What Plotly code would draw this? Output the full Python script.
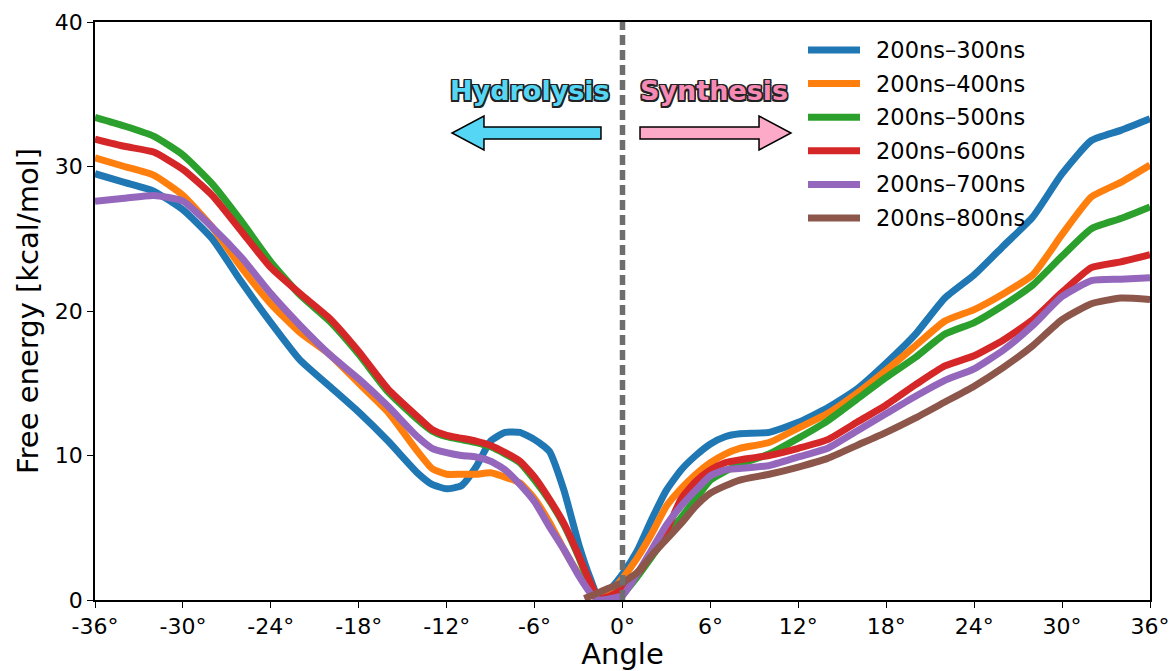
import plotly.graph_objects as go

# ---- data ----
angles = [-36, -34, -32, -30, -28, -26, -24, -22, -20, -18, -16, -14, -13, -12, -11, -10,
          -9, -8, -7, -6, -5, -4, -3, -2.2, -1.6, -0.8, 0, 1, 2, 3, 4, 5, 6, 7, 8,
          10, 12, 14, 16, 18, 20, 22, 24, 26, 28, 30, 32, 34, 36]

fe_300 = [29.5, 28.9, 28.3, 27.0, 25.0, 22.0, 19.2, 16.6, 14.8, 13.0, 11.0, 8.8, 8.0, 7.7, 7.9, 9.2,
          11.0, 11.6, 11.6, 11.1, 10.3, 7.6, 3.9, 1.5, 0.1, 0.8, 1.8, 3.4, 5.6, 7.6, 9.0, 10.0, 10.8, 11.3, 11.5,
          11.6, 12.3, 13.3, 14.6, 16.4, 18.4, 20.9, 22.5, 24.5, 26.5, 29.5, 31.8, 32.5, 33.3]
fe_400 = [30.6, 30.0, 29.4, 28.0, 25.8, 23.0, 20.5, 18.5, 17.0, 15.0, 13.0, 10.3, 9.1, 8.7, 8.7, 8.7,
          8.8, 8.5, 8.1, 7.0, 5.4, 3.5, 1.8, 0.6, 0.0, 0.6, 1.5, 2.9, 4.6, 6.5, 7.7, 8.7, 9.5, 10.1, 10.5,
          10.9, 11.9, 12.9, 14.3, 15.9, 17.6, 19.3, 20.1, 21.2, 22.5, 25.3, 27.9, 28.9, 30.1]
fe_500 = [33.4, 32.8, 32.1, 30.8, 28.8, 26.2, 23.4, 21.1, 19.3, 17.0, 14.4, 12.5, 11.7, 11.3, 11.1, 10.9,
          10.6, 10.1, 9.5, 8.3, 6.9, 5.2, 3.0, 1.0, 0.1, 0.1, 0.4, 1.6, 3.0, 4.4, 5.7, 7.0, 8.3, 8.9, 9.4,
          10.1, 11.2, 12.4, 13.9, 15.4, 16.8, 18.4, 19.2, 20.4, 21.8, 23.8, 25.7, 26.4, 27.2]
fe_600 = [31.9, 31.4, 31.0, 29.8, 28.0, 25.5, 23.0, 21.2, 19.5, 17.2, 14.6, 12.7, 11.8, 11.4, 11.2, 11.0,
          10.7, 10.2, 9.6, 8.5, 7.0, 5.3, 3.1, 1.2, 0.1, 0.3, 0.8, 1.8, 3.2, 4.8, 7.0, 8.2, 9.0, 9.5, 9.7,
          10.0, 10.5, 11.1, 12.3, 13.5, 14.9, 16.2, 16.9, 18.0, 19.4, 21.3, 23.0, 23.4, 23.9]
fe_700 = [27.6, 27.8, 28.0, 27.6, 25.8, 23.7, 21.2, 19.0, 17.0, 15.3, 13.4, 11.3, 10.5, 10.2, 10.0, 9.9,
          9.6, 9.0, 8.0, 6.8, 5.1, 3.5, 1.7, 0.5, 0.0, 0.1, 0.3, 1.8, 3.5, 5.2, 6.5, 7.6, 8.6, 9.0, 9.1,
          9.3, 9.9, 10.5, 11.7, 12.9, 14.1, 15.2, 16.0, 17.3, 19.0, 21.0, 22.1, 22.2, 22.3]

angles_800 = [-2.6, -2, -1, 0, 1, 2, 3, 4, 5, 6, 7, 8, 10, 12, 14, 16, 18, 20, 22, 24, 26, 28, 30, 32, 34, 36]
fe_800 = [0.1, 0.35, 0.8, 1.2, 1.9, 3.1, 4.2, 5.3, 6.5, 7.4, 7.9, 8.3, 8.7, 9.2, 9.8, 10.7, 11.6,
          12.6, 13.7, 14.8, 16.1, 17.6, 19.4, 20.5, 20.9, 20.8]

labels = ["200ns\u2013300ns", "200ns\u2013400ns", "200ns\u2013500ns",
          "200ns\u2013600ns", "200ns\u2013700ns", "200ns\u2013800ns"]
colors = ["#1f77b4", "#ff7f0e", "#2ca02c", "#d62728", "#9467bd", "#8c564b"]

xticks = [-36, -30, -24, -18, -12, -6, 0, 6, 12, 18, 24, 30, 36]
xticklabels = [f"{v}\u00b0" for v in xticks]
yticks = [0, 10, 20, 30, 40]

FONT = "DejaVu Sans"

# plot-area geometry (pixels) for annotation placement
W, H = 1172, 671
L, R, T, B = 95, 22, 22, 71
pw, ph = W - L - R, H - T - B


def px(xp):
    return (xp - L) / pw


def py(yp):
    return (H - B - yp) / ph


fig = go.Figure()
series = [(angles, fe_300), (angles, fe_400), (angles, fe_500),
          (angles, fe_600), (angles, fe_700), (angles_800, fe_800)]
for (xs, ys), name, c in zip(series, labels, colors):
    fig.add_trace(go.Scatter(x=xs, y=ys, mode="lines", name=name, showlegend=False,
                             line=dict(color=c, width=7, shape="spline", smoothing=0.5)))

# legend drawn as line samples + labels (matplotlib-style, no frame)
for i, (name, c) in enumerate(zip(labels, colors)):
    yc = 50 + i * 33.6
    fig.add_shape(type="line", xref="paper", yref="paper", x0=px(808), x1=px(860),
                  y0=py(yc), y1=py(yc), line=dict(color=c, width=7))
    fig.add_annotation(x=px(874), y=py(yc), xref="paper", yref="paper", text=name,
                       showarrow=False, xanchor="left", yanchor="middle",
                       font=dict(family=FONT, size=22.5, color="black"))

# dashed vertical line at 0
fig.add_shape(type="line", xref="x", yref="paper", x0=0, x1=0, y0=0, y1=1,
              line=dict(color="#6e6e6e", width=5.5, dash="10px,5px"), layer="above")


def arrow(tail, base, tip, yc, bh, hh):
    pts = [(tail, yc - bh), (base, yc - bh), (base, yc - hh), (tip, yc),
           (base, yc + hh), (base, yc + bh), (tail, yc + bh)]
    return "M " + " L ".join(f"{px(a):.4f},{py(b):.4f}" for a, b in pts) + " Z"


fig.add_shape(type="path", xref="paper", yref="paper",
              path=arrow(601, 484, 452, 133, 6, 17),
              fillcolor="#55d6f5", line=dict(color="black", width=1.5), layer="above")
fig.add_shape(type="path", xref="paper", yref="paper",
              path=arrow(640, 759, 791, 133, 6, 17),
              fillcolor="#fda9c8", line=dict(color="black", width=1.5), layer="above")

outline = ("1.5px 1.5px 0 #222, -1.5px -1.5px 0 #222, 1.5px -1.5px 0 #222, -1.5px 1.5px 0 #222, "
           "0 1.5px 0 #222, 0 -1.5px 0 #222, 1.5px 0 0 #222, -1.5px 0 0 #222")
fig.add_annotation(x=px(530), y=py(90), xref="paper", yref="paper", text="<b>Hydrolysis</b>",
                   showarrow=False, xanchor="center", yanchor="middle",
                   font=dict(family=FONT, size=27, color="#55d6f5", shadow=outline))
fig.add_annotation(x=px(714), y=py(90), xref="paper", yref="paper", text="<b>Synthesis</b>",
                   showarrow=False, xanchor="center", yanchor="middle",
                   font=dict(family=FONT, size=27, color="#f58ab5", shadow=outline))

axis_common = dict(showline=True, linecolor="black", linewidth=1.5, mirror=True,
                   ticks="outside", ticklen=6, tickwidth=1.3, tickcolor="black",
                   showgrid=False, zeroline=False, automargin=False,
                   tickfont=dict(family=FONT, size=22, color="black"))

fig.update_layout(
    width=W, height=H,
    margin=dict(l=L, r=R, t=T, b=B),
    paper_bgcolor="white", plot_bgcolor="white",
    font=dict(family=FONT, color="black"),
    xaxis=dict(range=[-36, 36], tickvals=xticks, ticktext=xticklabels,
               title=dict(text="Angle", font=dict(family=FONT, size=29), standoff=2),
               **axis_common),
    yaxis=dict(range=[0, 40], tickvals=yticks,
               title=dict(text="Free energy [kcal/mol]", font=dict(family=FONT, size=29), standoff=8),
               **axis_common),
    showlegend=False,
)

fig.write_html("out.html")
